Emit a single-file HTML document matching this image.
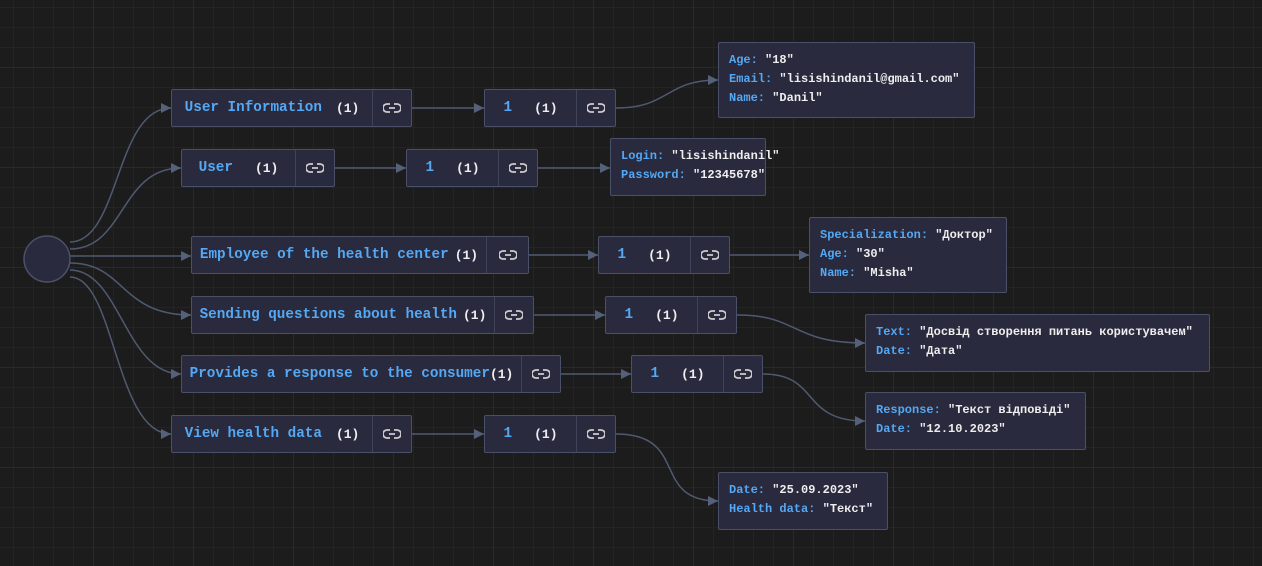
<!DOCTYPE html>
<html><head><meta charset="utf-8"><style>
body{margin:0;width:1262px;height:566px;overflow:hidden;background:#1c1c1c;
background-image:linear-gradient(#2a2a2a 1px,transparent 1px),linear-gradient(90deg,#2a2a2a 1px,transparent 1px),linear-gradient(#242424 1px,transparent 1px),linear-gradient(90deg,#242424 1px,transparent 1px);background-size:100px 100px,100px 100px,20px 20px,20px 20px;background-position:-7px 67px,-7px 67px,13px 7px,13px 7px;font-family:"Liberation Mono","DejaVu Sans Mono",monospace;position:relative}
.n{position:absolute;height:38px;background:#292a3d;border:1px solid #4a5068;border-radius:2px;display:flex;align-items:center;box-sizing:border-box}
.n .l{flex:1;display:flex;align-items:center;justify-content:center;height:100%;white-space:nowrap}
.n .k{color:#54a8f4;font-size:14.3px;font-weight:bold}
.n .c{color:#eee;font-weight:bold;font-size:13px;margin-left:14px}
.n .i{width:38px;height:100%;border-left:1px solid #3f4458;display:flex;align-items:center;justify-content:center}
.d{position:absolute;background:#292a3d;border:1px solid #4a5068;border-radius:2px;box-sizing:border-box;padding:8px 10px;font-size:12px;line-height:19px;color:#eee;white-space:nowrap;font-weight:bold}
.d b{color:#54a8f4}
svg.e{position:absolute;left:0;top:0}
</style></head><body>
<svg class="e" width="1262" height="566">
<defs><marker id="a" markerWidth="10" markerHeight="10" refX="10" refY="5" orient="auto" markerUnits="userSpaceOnUse"><path d="M0,0L10,5L0,10z" fill="#55617a"/></marker>
<symbol id="lk" viewBox="0 0 18 10"><path d="M7 1H4a4 4 0 0 0 0 8h3M11 1h3a4 4 0 0 1 0 8h-3M6 5h6" fill="none" stroke="#ccc" stroke-width="1.8"/></symbol></defs>
<g fill="none" stroke="#4f5a72" stroke-width="1.5" marker-end="url(#a)">
<path d="M70 242C120 242 115 108 171 108"/>
<path d="M70 249C125 249 120 168 181 168"/>
<path d="M70 256H191"/>
<path d="M70 263C125 263 120 315 191 315"/>
<path d="M70 270C120 270 125 374 181 374"/>
<path d="M70 277C115 277 115 434 171 434"/>
<path d="M412 108H484"/><path d="M335 168H406"/><path d="M529 255H598"/><path d="M534 315H605"/><path d="M561 374H631"/><path d="M412 434H484"/>
<path d="M616 108C670 108 665 80 718 80"/>
<path d="M538 168H610"/>
<path d="M730 255H809"/>
<path d="M737 315C800 315 790 343 865 343"/>
<path d="M763 374C820 374 800 421 865 421"/>
<path d="M616 434C690 434 650 501 718 501"/>
</g>
<circle cx="47" cy="259" r="23" fill="#292a3d" stroke="#4a5068" stroke-width="1.5"/>
</svg>

<div class="n" style="left:171px;top:89px;width:241px"><div class="l"><span class="k">User Information</span><span class="c">(1)</span></div><div class="i"><svg width="18" height="10"><use href="#lk"/></svg></div></div>
<div class="n" style="left:484px;top:89px;width:132px"><div class="l"><span class="k">1</span><span class="c" style="margin-left:22px">(1)</span></div><div class="i"><svg width="18" height="10"><use href="#lk"/></svg></div></div>
<div class="d" style="left:718px;top:42px;width:257px;height:76px"><b>Age:</b> "18"<br><b>Email:</b> "lisishindanil@gmail.com"<br><b>Name:</b> "Danil"</div>

<div class="n" style="left:181px;top:149px;width:154px"><div class="l"><span class="k">User</span><span class="c" style="margin-left:22px">(1)</span></div><div class="i"><svg width="18" height="10"><use href="#lk"/></svg></div></div>
<div class="n" style="left:406px;top:149px;width:132px"><div class="l"><span class="k">1</span><span class="c" style="margin-left:22px">(1)</span></div><div class="i"><svg width="18" height="10"><use href="#lk"/></svg></div></div>
<div class="d" style="left:610px;top:138px;width:156px;height:58px"><b>Login:</b> "lisishindanil"<br><b>Password:</b> "12345678"</div>

<div class="n" style="left:191px;top:236px;width:338px"><div class="l"><span class="k">Employee of the health center</span><span class="c" style="margin-left:6px">(1)</span></div><div class="i" style="width:41px"><svg width="18" height="10"><use href="#lk"/></svg></div></div>
<div class="n" style="left:598px;top:236px;width:132px"><div class="l"><span class="k">1</span><span class="c" style="margin-left:22px">(1)</span></div><div class="i"><svg width="18" height="10"><use href="#lk"/></svg></div></div>
<div class="d" style="left:809px;top:217px;width:198px;height:76px"><b>Specialization:</b> "Доктор"<br><b>Age:</b> "30"<br><b>Name:</b> "Misha"</div>

<div class="n" style="left:191px;top:296px;width:343px"><div class="l"><span class="k">Sending questions about health</span><span class="c" style="margin-left:6px">(1)</span></div><div class="i"><svg width="18" height="10"><use href="#lk"/></svg></div></div>
<div class="n" style="left:605px;top:296px;width:132px"><div class="l"><span class="k">1</span><span class="c" style="margin-left:22px">(1)</span></div><div class="i"><svg width="18" height="10"><use href="#lk"/></svg></div></div>
<div class="d" style="left:865px;top:314px;width:345px;height:58px"><b>Text:</b> "Досвід створення питань користувачем"<br><b>Date:</b> "Дата"</div>

<div class="n" style="left:181px;top:355px;width:380px"><div class="l"><span class="k">Provides a response to the consumer</span><span class="c" style="margin-left:0">(1)</span></div><div class="i"><svg width="18" height="10"><use href="#lk"/></svg></div></div>
<div class="n" style="left:631px;top:355px;width:132px"><div class="l"><span class="k">1</span><span class="c" style="margin-left:22px">(1)</span></div><div class="i"><svg width="18" height="10"><use href="#lk"/></svg></div></div>
<div class="d" style="left:865px;top:392px;width:221px;height:58px"><b>Response:</b> "Текст відповіді"<br><b>Date:</b> "12.10.2023"</div>

<div class="n" style="left:171px;top:415px;width:241px"><div class="l"><span class="k">View health data</span><span class="c">(1)</span></div><div class="i"><svg width="18" height="10"><use href="#lk"/></svg></div></div>
<div class="n" style="left:484px;top:415px;width:132px"><div class="l"><span class="k">1</span><span class="c" style="margin-left:22px">(1)</span></div><div class="i"><svg width="18" height="10"><use href="#lk"/></svg></div></div>
<div class="d" style="left:718px;top:472px;width:170px;height:58px"><b>Date:</b> "25.09.2023"<br><b>Health data:</b> "Текст"</div>
</body></html>
